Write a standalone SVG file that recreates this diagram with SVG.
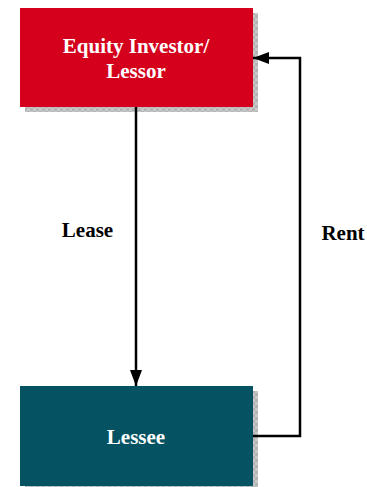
<svg xmlns="http://www.w3.org/2000/svg" width="367" height="487" viewBox="0 0 367 487">
<defs>
<pattern id="sh" width="6" height="6" patternUnits="userSpaceOnUse"><rect width="6" height="6" fill="#c8c8c8"/><rect width="3" height="3" fill="#b4b4b4"/><rect x="3" y="3" width="3" height="3" fill="#b4b4b4"/></pattern>
<marker id="ah" markerWidth="16" markerHeight="12" refX="16" refY="6" orient="auto" markerUnits="userSpaceOnUse"><path d="M0,0 L16,6 L0,12 Z" fill="#000"/></marker>
</defs>
<style>
.t{font-family:"Liberation Serif",serif;font-weight:bold;font-size:21px;text-anchor:middle}
.w{fill:#fff}
.c{fill:none;stroke:#000;stroke-width:2.5}
</style>
<rect width="367" height="487" fill="#fff"/>
<g id="lessor">
<rect x="25" y="13" width="233" height="99" fill="url(#sh)"/>
<rect x="20" y="8" width="233" height="99" fill="#d4001c"/>
<text class="t w" x="136" y="53">Equity Investor/</text>
<text class="t w" x="136" y="78">Lessor</text>
</g>
<g id="lessee">
<rect x="25" y="391" width="233" height="100" fill="url(#sh)"/>
<rect x="20" y="386" width="233" height="100" fill="#055263"/>
<text class="t w" x="136" y="444">Lessee</text>
</g>
<g id="connectors">
<path class="c" d="M136,107 V386" marker-end="url(#ah)"/>
<path class="c" d="M253,436 H300 V58 H253" marker-end="url(#ah)"/>
<text class="t" x="87.5" y="237">Lease</text>
<text class="t" x="343" y="240">Rent</text>
</g>
</svg>
